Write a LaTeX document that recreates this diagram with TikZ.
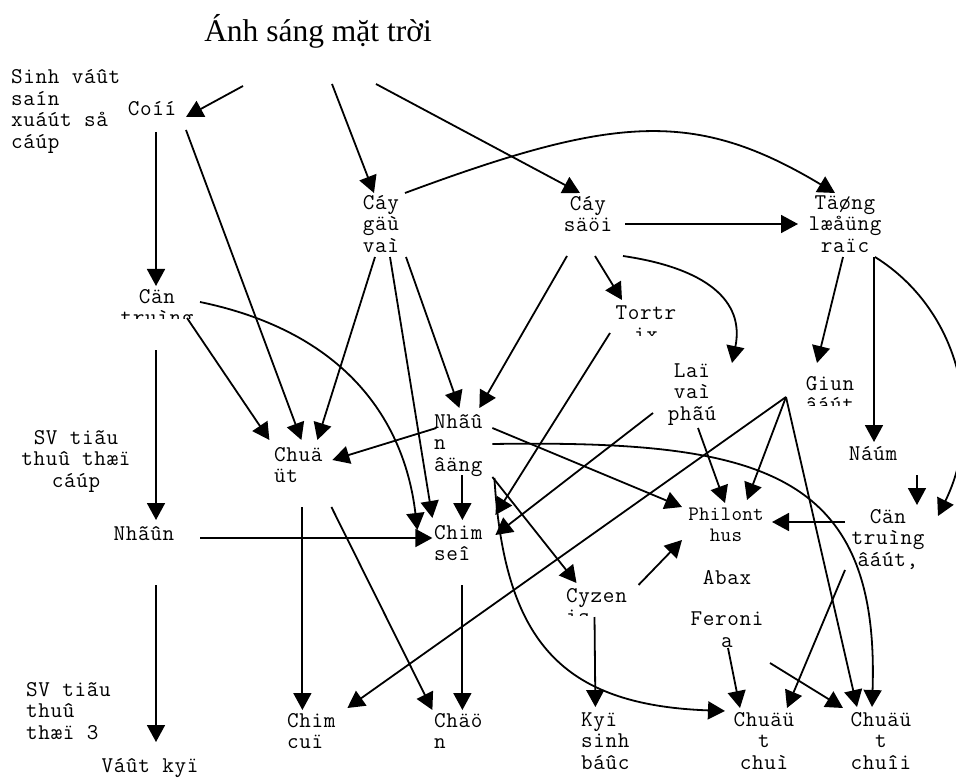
\documentclass[tikz,border=0pt]{standalone}
\usepackage{fontspec}
\setmainfont{Liberation Serif}
\newfontfamily\typefont{Latin Modern Mono}[LetterSpace=3.0]
\newfontfamily\typefontsm{Latin Modern Mono}[LetterSpace=1.2]
\usetikzlibrary{arrows.meta,calc}

\begin{document}
\begin{tikzpicture}[x=1pt,y=-1pt,
  lbl/.style={font=\typefont\fontsize{22.5}{21.5}\selectfont, inner sep=0pt,
    align=center, execute at begin node=\strut, execute at end node=\strut},
  lbll/.style={lbl, align=left, anchor=west},
  small/.style={lbl, font=\typefontsm\fontsize{20.5}{21}\selectfont},
  arr/.style={line width=1.8pt, -{Triangle[length=17pt,width=18pt]}},
  ]
\useasboundingbox[fill=white] (0,0) rectangle (956,778);

% title and trophic level labels
\node[inner sep=0pt] (T) at (318,31) {\fontsize{31.5}{36}\selectfont Ánh sáng mặt trời};
\node[lbll] (SV1) at (11,112) {Sinh váût\\saín\\xuáút så\\cáúp};
\node[lbl]  (SV2) at (76,462) {SV tiãu\\thuû thæï\\cáúp};
\node[lbll] (SV3) at (26,714) {SV tiãu\\thuû\\thæï 3};

% producers and litter
\node[lbl] (C)  at (152,111) {Coíí};
\node[lbl] (G)  at (381,227) {Cáy\\gäù\\vaì};
\node[lbl] (S)  at (588,217) {Cáy\\säöi};
\node[lbl] (TL) at (845,227) {Täøng\\læåüng\\raïc};

% consumers
\begin{scope}
  \clip (100,280) rectangle (220,318);
  \node[lbl] (CT) at (157,310) {Cän\\truìng};
\end{scope}
\begin{scope}
  \clip (600,295) rectangle (700,335);
  \node[lbl] (TX) at (646,327) {Tortr\\ix};
\end{scope}
\node[lbl] (LP) at (692,395) {Laï\\vaì\\phãú};
\begin{scope}
  \clip (790,365) rectangle (870,405);
  \node[lbl] (GD) at (830,397) {Giun\\âáút};
\end{scope}
\node[lbl]   (N)  at (873,456) {Náúm};
\node[lbl]   (CD) at (888,541) {Cän\\truìng\\âáút,};
\node[small] (P)  at (726,528) {Philont\\hus};
\node[lbl]   (A)  at (727,580) {Abax};
\node[lbl]   (F)  at (727,633) {Feroni\\a};
\begin{scope}
  \clip (550,580) rectangle (650,615);
  \node[lbll] (CY) at (566,609) {Cyzen\\is};
\end{scope}
\node[lbl]  (NH) at (144,536) {Nhãûn};
\node[lbll] (CU) at (274,468) {Chuä\\üt};
\node[lbll] (ND) at (434,446) {Nhãû\\n\\âäng};
\node[lbll] (CS) at (434,546) {Chim\\seî};

% top consumers
\node[lbll] (CM) at (287,734) {Chim\\cuï};
\node[lbll] (CN) at (434,734) {Chäö\\n};
\node[lbll] (K)  at (581,744) {Kyï\\sinh\\báûc};
\node[lbl]  (CC) at (764,744) {Chuäü\\t\\chuì};
\node[lbl]  (CH) at (881,744) {Chuäü\\t\\chuîi};
\node[lbl]  (V)  at (150,768) {Váût kyï};

% energy from the sun
\draw[arr] ($(T)+(-75,55)$) -- ($(C)+(34,6)$);
\draw[arr] ($(T)+(14,53)$) -- ($(G)+(-7,-34)$);
\draw[arr] ($(T)+(58,53)$) -- ($(S)+(-8,-24)$);

% trees to litter
\draw[arr] ($(G)+(24,-34)$) .. controls +(210,-78) and +(-140,-84) .. ($(TL)+(-10,-34)$);
\draw[arr] ($(S)+(37,7)$) -- ($(TL)+(-47,-3)$);

% grass
\draw[arr] ($(C)+(4,21)$) -- ($(CT)+(-1,-24)$);
\draw[arr] ($(C)+(34,19)$) -- ($(CU)+(3,-28)$);

% insects
\draw[arr] ($(CT)+(30,8)$) -- ($(CU)+(-29,-28)$);
\draw[arr] ($(CT)+(43,-8)$) .. controls +(145,30) and +(-13,-110) .. ($(CS)+(-41,-16)$);
\draw[arr] ($(CT)+(-1,40)$) -- ($(NH)+(12,-16)$);

% spiders
\draw[arr] ($(NH)+(12,49)$) -- ($(V)+(6,-26)$);
\draw[arr] ($(NH)+(56,2)$) -- ($(CS)+(-26,-8)$);

% trees
\draw[arr] ($(G)+(-6,30)$) -- ($(CU)+(19,-28)$);
\draw[arr] ($(G)+(9,30)$) -- ($(CS)+(-26,-28)$);
\draw[arr] ($(G)+(25,30)$) -- ($(ND)+(1,-38)$);
\draw[arr] ($(S)+(-21,39)$) -- ($(ND)+(21,-38)$);
\draw[arr] ($(S)+(7,39)$) -- ($(TX)+(-24,-27)$);
\draw[arr] ($(S)+(35,39)$) .. controls +(82,12) and +(13,-63) .. ($(LP)+(40,-32)$);

% Tortrix and leaves
\draw[arr] ($(TX)+(-36,6)$) -- ($(CS)+(37,-31)$);
\draw[arr] ($(LP)+(-39,18)$) -- ($(CS)+(37,-11)$);
\draw[arr] ($(LP)+(6,33)$) -- ($(P)+(-1,-25)$);

% litter
\draw[arr] ($(TL)+(-2,30)$) -- ($(GD)+(-13,-34)$);
\draw[arr] ($(TL)+(29,30)$) -- ($(N)+(1,-14)$);
\draw[arr] ($(TL)+(30,30)$) .. controls +(85,53) and +(47,-96) .. ($(CD)+(50,-25)$);

% earthworms
\draw[arr] ($(GD)+(-44,0)$) -- ($(P)+(21,-28)$);
\draw[arr] ($(GD)+(-44,0)$) -- ($(CM)+(36,-26)$);
\draw[arr] ($(GD)+(-44,0)$) -- ($(CH)+(-24,-37)$);

% winter moth larvae
\draw[arr] ($(ND)+(-22,-18)$) -- ($(CU)+(34,-8)$);
\draw[arr] ($(ND)+(34,-18)$) -- ($(P)+(-44,-21)$);
\draw[arr] ($(ND)+(34,-2)$) .. controls +(267,-4) and +(8,-237) .. ($(CH)+(-9,-37)$);
\draw[arr] ($(ND)+(4,29)$) -- ($(CS)+(4,-26)$);
\draw[arr] ($(ND)+(34,31)$) -- ($(CY)+(-20,-26)$);
\draw[arr] ($(ND)+(36,32)$) .. controls +(10,162) and +(-165,-6) .. ($(CC)+(-39,-33)$);

% Cyzenis
\draw[arr] ($(CY)+(42,-24)$) -- ($(P)+(-44,12)$);
\draw[arr] ($(CY)+(-2,8)$) -- ($(K)+(-10,-37)$);

% fungi and soil insects
\draw[arr] ($(N)+(44,19)$) -- ($(CD)+(29,-36)$);
\draw[arr] ($(CD)+(-43,-19)$) -- ($(P)+(46,-6)$);
\draw[arr] ($(CD)+(-43,29)$) -- ($(CC)+(23,-36)$);

% Feronia
\draw[arr] ($(F)+(1,15)$) -- ($(CC)+(-24,-36)$);
\draw[arr] ($(F)+(43,30)$) -- ($(CH)+(-38,-36)$);

% birds and weasel
\draw[arr] ($(CU)+(4,39)$) -- ($(CM)+(-9,-24)$);
\draw[arr] ($(CU)+(33,39)$) -- ($(CN)+(-26,-24)$);
\draw[arr] ($(CS)+(4,39)$) -- ($(CN)+(4,-24)$);
\end{tikzpicture}
\end{document}
